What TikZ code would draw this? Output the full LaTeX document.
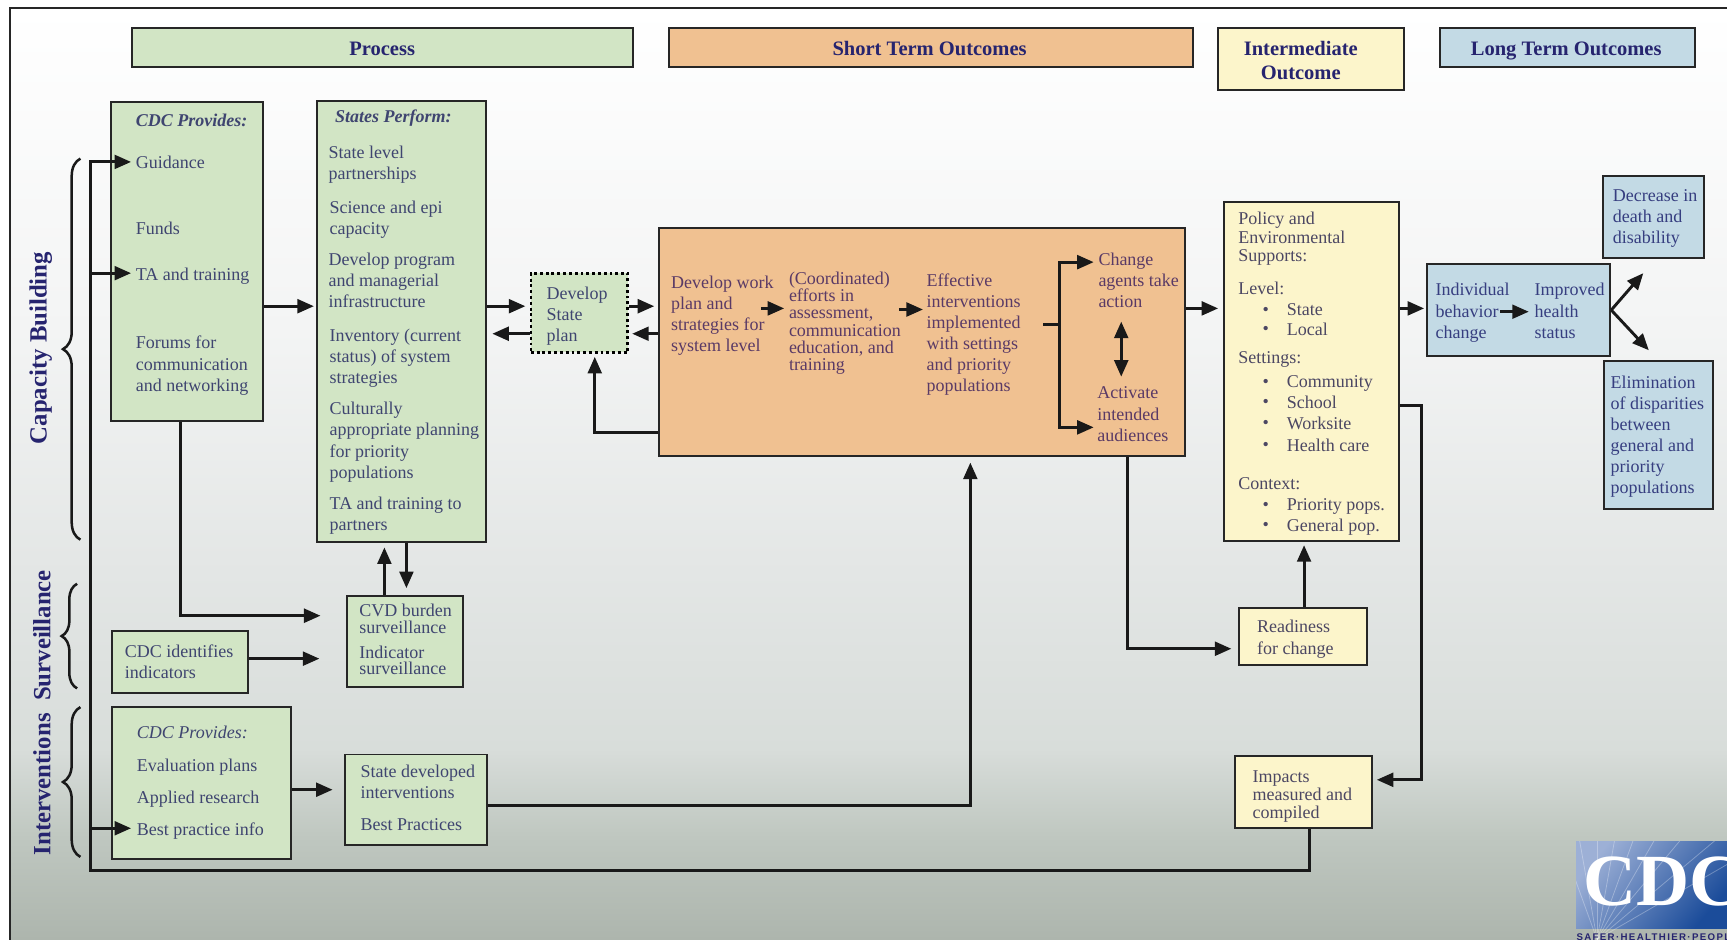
\documentclass[tikz,border=0pt]{standalone}
\usepackage{fontspec}
\setmainfont{Liberation Serif}
\setsansfont{Liberation Sans}
\usetikzlibrary{positioning}
\usetikzlibrary{fit}
\usetikzlibrary{arrows.meta}
\usetikzlibrary{decorations.pathreplacing}
\definecolor{grn}{HTML}{D2E5C5}
\definecolor{org}{HTML}{F0C191}
\definecolor{yel}{HTML}{FCF5CB}
\definecolor{blu}{HTML}{C3DAE5}
\definecolor{navy}{HTML}{26246F}
\definecolor{grntxt}{HTML}{3F4570}
\definecolor{orgtxt}{HTML}{5A3A66}
\definecolor{yeltxt}{HTML}{4C4763}
\definecolor{blutxt}{HTML}{363E80}
\definecolor{bgzero}{HTML}{ADB5AD}
\definecolor{bgone}{HTML}{BFC7C0}
\definecolor{bgtwo}{HTML}{D8DDDA}
\definecolor{bgthree}{HTML}{E3E6E5}
\definecolor{bgfour}{HTML}{F3F4F4}
\definecolor{logolo}{HTML}{9DB0D6}
\definecolor{logohi}{HTML}{1B4C9A}
\tikzset{
	box/.style={draw=black!85, line width=1pt, inner sep=0pt},
	txt/.style={anchor=north west, inner sep=0pt, yshift=-0.04cm, align=left, font=\fontsize{9.3}{10.9}\selectfont},
	tight/.style={font=\fontsize{9.3}{8.6}\selectfont},
	title/.style={inner sep=0pt, align=center, text=navy, font=\fontsize{10.6}{12.4}\selectfont\bfseries},
	side/.style={rotate=90, inner sep=0pt, text=navy, font=\fontsize{12.8}{14}\selectfont\bfseries},
	line/.style={line width=1.5pt, black!90},
	arr/.style={line, -{Triangle[length=0.3cm,width=0.25cm]}},
	twoarr/.style={line, {Triangle[length=0.3cm,width=0.25cm]}-{Triangle[length=0.3cm,width=0.25cm]}},
	brc/.style={line width=1.3pt, black!90, decorate, decoration={brace, amplitude=9pt}}
}

\begin{document}
\begin{tikzpicture}[x=0.02cm, y=-0.02cm]
				\useasboundingbox (0,0) rectangle (1568,853);

				%Background
				\shade[top color=white, bottom color=bgfour] (9,7) rectangle (1568,300);
				\shade[top color=bgfour, bottom color=bgthree] (9,300) rectangle (1568,520);
				\shade[top color=bgthree, bottom color=bgtwo] (9,520) rectangle (1568,680);
				\shade[top color=bgtwo, bottom color=bgone] (9,680) rectangle (1568,760);
				\shade[top color=bgone, bottom color=bgzero] (9,760) rectangle (1568,853);
				\draw[line width=1.2pt, black!85] (1568,7) -- (9,7) -- (9,853);

				%Headers
				\node[box, fill=grn, fit={(120,25)(575,61)}] (process) {};
				\node[box, fill=org, fit={(607,25)(1083,61)}] (short) {};
				\node[box, fill=yel, fit={(1106,25)(1275,82)}] (inter) {};
				\node[box, fill=blu, fit={(1307,25)(1539,61)}] (long) {};
				\node[title, anchor=base] (processt) at (347,50.5) {Process};
				\node[title, anchor=base] (shortt) at (844,50.5) {Short Term Outcomes};
				\node[title] (intert) at (1181,55) {Intermediate\\Outcome};
				\node[title, anchor=base] (longt) at (1422,50) {Long Term Outcomes};

				%Boxes
				\node[box, fill=grn, fit={(101,93)(239,382)}] (cdc) {};
				\node[box, fill=grn, fit={(288,92)(441,492)}] (states) {};
				\node[box, fill=grn, fit={(482,248)(570,320)}, draw=black, line width=1.4pt, dash pattern=on 1.5pt off 1.5pt] (plan) {};
				\node[box, fill=org, fit={(598,207)(1076,414)}] (work) {};
				\node[box, fill=yel, fit={(1111,183)(1270,491)}] (policy) {};
				\node[box, fill=blu, fit={(1296,240)(1462,323)}] (indiv) {};
				\node[box, fill=blu, fit={(1455,160)(1547,234)}] (death) {};
				\node[box, fill=blu, fit={(1456,328)(1555,462)}] (elim) {};
				\node[box, fill=grn, fit={(315,541)(420,624)}] (cvd) {};
				\node[box, fill=grn, fit={(102,573)(225,629)}] (ident) {};
				\node[box, fill=grn, fit={(102,642)(264,780)}] (cdcb) {};
				\node[box, fill=grn, fit={(313,685)(442,767)}] (devel) {};
				\node[box, fill=yel, fit={(1125,552)(1241,604)}] (ready) {};
				\node[box, fill=yel, fit={(1121,686)(1246,752)}] (impacts) {};

				%Free line ends
				\coordinate (f0) at (82,790);
				\coordinate (f1) at (119,147);
				\coordinate (f2) at (119,248);
				\coordinate (f3) at (119,752);
				\coordinate (f4) at (285,278);
				\coordinate (f5) at (477,278);
				\coordinate (f6) at (447,303);
				\coordinate (f7) at (594,278);
				\coordinate (f8) at (574,303);
				\coordinate (f9) at (540,393);
				\coordinate (f10) at (540,324);
				\coordinate (f11) at (1106,280);
				\coordinate (f12) at (1118,589);
				\coordinate (f13) at (1184,495);
				\coordinate (f14) at (1293,280);
				\coordinate (f15) at (1291,368);
				\coordinate (f16) at (1250,708);
				\coordinate (f17) at (1492,248);
				\coordinate (f18) at (1497,318);
				\coordinate (f19) at (291,559);
				\coordinate (f20) at (290,598);
				\coordinate (f21) at (349,497);
				\coordinate (f22) at (369,534);
				\coordinate (f23) at (302,717);
				\coordinate (f24) at (881,420);
				\coordinate (f25) at (1024,589);
				\coordinate (f26) at (164,559);
				\coordinate (f27) at (881,731);
				\coordinate (f28) at (1189,790);

				%Lines
				\draw[arr] (impacts.south -| f28) -- (f28) -- (f0) -- (82,147) -- (f1);
				\draw[arr] (f0 |- f2) -- (f2);
				\draw[arr] (f0 |- f3) -- (f3);
				\draw[arr] (cdc.east |- f4) -- (f4);
				\draw[arr] (states.east |- f5) -- (f5);
				\draw[arr] (plan.west |- f6) -- (f6);
				\draw[arr] (plan.east |- f7) -- (f7);
				\draw[arr] (work.west |- f8) -- (f8);
				\draw[arr] (work.west |- f9) -- (f9) -- (f10);
				\draw[arr] (work.east |- f11) -- (f11);
				\draw[arr] (work.south -| f25) -- (f25) -- (f12);
				\draw[arr] (ready.north -| f13) -- (f13);
				\draw[arr] (policy.east |- f14) -- (f14);
				\draw[arr] (policy.east |- f15) -- (f15) -- (f15 |- f16) -- (f16);
				\draw[arr] (indiv.east) -- (f17);
				\draw[arr] (indiv.east) -- (f18);
				\draw[arr] (cdc.south -| f26) -- (f26) -- (f19);
				\draw[arr] (ident.east |- f20) -- (f20);
				\draw[arr] (cvd.north -| f21) -- (f21);
				\draw[arr] (states.south -| f22) -- (f22);
				\draw[arr] (cdcb.east |- f23) -- (f23);
				\draw[arr] (devel.east |- f27) -- (f27) -- (f24);

				%Inner arrows
				\coordinate (w1) at (691,280);
				\coordinate (w2) at (712,280);
				\coordinate (w3) at (816,281);
				\coordinate (w4) at (838,281);
				\coordinate (w5) at (947,295);
				\coordinate (w6) at (993,238);
				\coordinate (w7) at (993,388);
				\coordinate (w8) at (1018,292);
				\coordinate (w9) at (1018,342);
				\coordinate (w10) at (1362,283);
				\coordinate (w11) at (1388,283);
				\draw[arr] (w1) -- (w2);
				\draw[arr] (w3) -- (w4);
				\draw[line] (w5) -- (962,295);
				\draw[arr] (962,295) |- (w6);
				\draw[arr] (962,295) |- (w7);
				\draw[twoarr] (w8) -- (w9);
				\draw[arr] (w10) -- (w11);

				%Braces
				\draw[brc] (73,490) -- (73,144);
				\draw[brc, decoration={brace, amplitude=8pt}] (70,625) -- (70,530);
				\draw[brc, decoration={brace, amplitude=9pt, aspect=0.5}] (73,778) -- (73,642);
				\node[side] (capa) at (37,316) {Capacity Building};
				\node[side] (surv) at (38,577) {Surveillance};
				\node[side] (intv) at (38,712) {Interventions};

				%CDC provides
				\begin{scope}[every node/.style={txt, text=grntxt}]
					\node (c0) at (123,101) {\textbf{\textit{CDC Provides:}}};
					\node (c1) at (123,139) {Guidance};
					\node (c2) at (123,199) {Funds};
					\node (c3) at (123,241) {TA and training};
					\node (c4) at (123,303) {Forums for\\communication\\and networking};
					%States perform
					\node (s0) at (304,97) {\textbf{\textit{States Perform:}}};
					\node (s1) at (298,130) {State level\\partnerships};
					\node (s2) at (299,180) {Science and epi\\capacity};
					\node (s3) at (298,227) {Develop program\\and managerial\\infrastructure};
					\node (s4) at (299,296) {Inventory (current\\status) of system\\strategies};
					\node (s5) at (299,363) {Culturally\\appropriate planning\\for priority\\populations};
					\node (s6) at (299,449) {TA and training to\\partners};
					\node (p0) at (496,258) {Develop\\State\\plan};
					%Lower green boxes
					\node[tight] (v0) at (326,546) {CVD burden\\surveillance};
					\node[tight] (v1) at (326,584) {Indicator\\surveillance};
					\node (i0) at (113,583) {CDC identifies\\indicators};
					\node (b0) at (124,657) {\textit{CDC Provides:}};
					\node (b1) at (124,687) {Evaluation plans};
					\node (b2) at (124,716) {Applied research};
					\node (b3) at (124,745) {Best practice info};
					\node (d0) at (327,692) {State developed\\interventions};
					\node (d1) at (327,741) {Best Practices};
				\end{scope}

				%Orange box
				\begin{scope}[every node/.style={txt, text=orgtxt}]
					\node (w0t) at (609,248) {Develop work\\plan and\\strategies for\\system level};
					\node[tight, font=\fontsize{9.3}{8.8}\selectfont] (w1t) at (716,245) {(Coordinated)\\efforts in\\assessment,\\communication\\education, and\\training};
					\node (w2t) at (841,246) {Effective\\interventions\\implemented\\with settings\\and priority\\populations};
					\node (w3t) at (997,227) {Change\\agents take\\action};
					\node (w4t) at (996,349) {Activate\\intended\\audiences};
				\end{scope}

				%Yellow boxes
				\begin{scope}[every node/.style={txt, text=yeltxt}]
					\node[font=\fontsize{9.3}{9.7}\selectfont] (y0) at (1124,190) {Policy and\\Environmental\\Supports:};
					\node (y1) at (1124,254) {Level:};
					\node (y2) at (1124,317) {Settings:};
					\node (y3) at (1124,431) {Context:};
					\foreach \n/\y/\t in {a/273/State, b/291/Local, c/339/Community, d/357/School, e/376/Worksite, f/396/Health care, g/450/Priority pops., h/469/General pop.}{
						\node (dot\n) at (1146,\y) {\vphantom{T}•};
						\node (item\n) at (1168,\y) {\t};
					}
					\node (r0) at (1141,561) {Readiness\\for change};
					\node[font=\fontsize{9.3}{9.4}\selectfont] (m0) at (1137,697) {Impacts\\measured and\\compiled};
				\end{scope}

				%Blue boxes
				\begin{scope}[every node/.style={txt, text=blutxt}]
					\node (n0) at (1303,255) {Individual\\behavior\\change};
					\node (n1) at (1393,255) {Improved\\health\\status};
					\node (n2) at (1464,170) {Decrease in\\death and\\disability};
					\node (n3) at (1462,339) {Elimination\\of disparities\\between\\general and\\priority\\populations};
				\end{scope}

				%Logo
				\begin{scope}
					\clip (1431,764) rectangle (1568,853);
					\shade[left color=logolo, right color=logohi, shading angle=50] (1431,764) rectangle (1568,843);
					\foreach \a in {-110,-100,...,-30}{
						\draw[white, opacity=0.3, line width=0.4pt] (1450,853) -- ++(\a:240);
					}
					\node[inner sep=0pt, anchor=west, text=white, font=\fontsize{38}{38}\selectfont\bfseries] (logo) at (1437,800) {CDC};
					\node[inner sep=0pt, anchor=west, text=navy, font=\sffamily\bfseries\fontsize{5}{5}\selectfont\addfontfeature{LetterSpace=14}] (logot) at (1431,851) {SAFER·HEALTHIER·PEOPLE};
				\end{scope}

			\end{tikzpicture}
\end{document}
